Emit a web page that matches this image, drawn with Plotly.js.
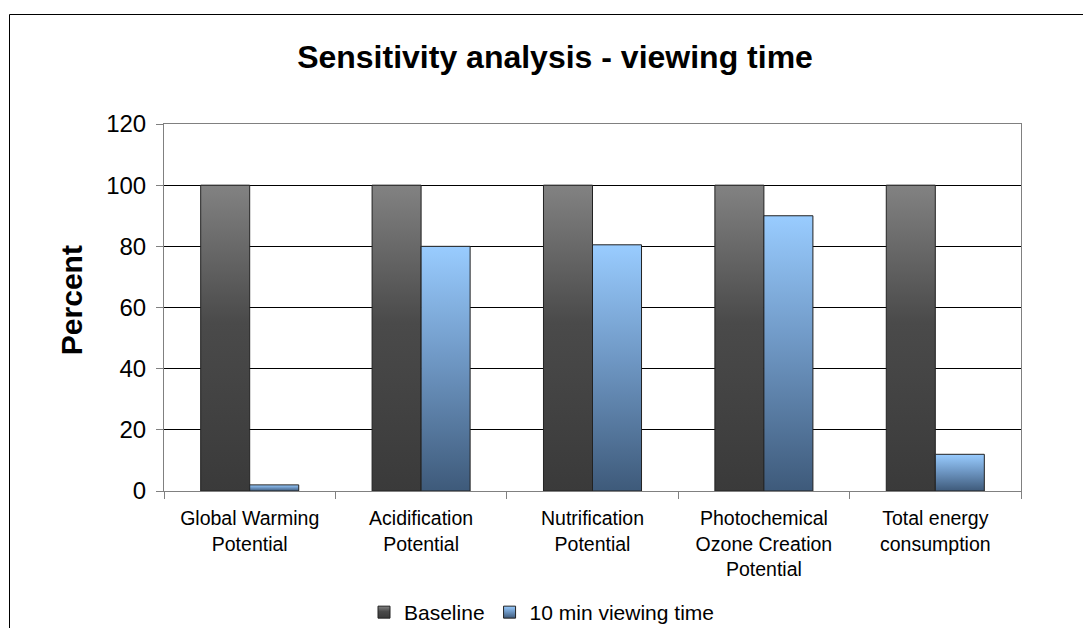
<!DOCTYPE html>
<html><head><meta charset="utf-8">
<script src="https://cdn.plot.ly/plotly-3.0.1.min.js"></script>
<style>html,body{margin:0;padding:0;background:#fff}#chart{width:1083px;height:628px}</style>
</head><body><div id="chart"></div>
<script>
const categories = ["Global Warming<br>Potential","Acidification<br>Potential","Nutrification<br>Potential","Photochemical<br>Ozone Creation<br>Potential","Total energy<br>consumption"];
const baselineValues = [100, 100, 100, 100, 100];
const viewingValues = [2, 80, 80.5, 90, 12];
const seriesNames = ["Baseline", "10 min viewing time"];
const yTickValues = [0, 20, 40, 60, 80, 100, 120];
const chartTitle = "Sensitivity analysis - viewing time";
const yTitle = "Percent";

const FONT = '"Liberation Sans", Arial, sans-serif';

const traces = [
  {type:'bar', name:seriesNames[0], x:categories, y:baselineValues,
   marker:{color:'#555555', line:{color:'#222222', width:1}}, hoverinfo:'none'},
  {type:'bar', name:seriesNames[1], x:categories, y:viewingValues,
   marker:{color:'#7fa8d6', line:{color:'#222222', width:1}}, hoverinfo:'none'}
];

const layout = {
  width:1083, height:628,
  margin:{l:164, r:62, t:124, b:137},
  paper_bgcolor:'#ffffff', plot_bgcolor:'#ffffff',
  font:{family:FONT, color:'#000000'},
  barmode:'group', bargap:0.428, bargroupgap:0,
  title:{text:chartTitle, font:{size:32, weight:700, family:FONT, color:'#000'},
         x:555/1083, xref:'container', xanchor:'center',
         y:1-57/628, yref:'container', yanchor:'middle'},
  xaxis:{type:'category', showline:true, linecolor:'#808080', linewidth:1, mirror:true,
         ticks:'outside', tickson:'boundaries', ticklen:7, tickcolor:'#808080',
         ticklabelstandoff:10,
         tickfont:{size:19.5, family:FONT, color:'#000'}, showgrid:false, zeroline:false},
  yaxis:{range:[0,120], tickvals:yTickValues, ticktext:yTickValues.map(String),
         showline:true, linecolor:'#808080', linewidth:1, mirror:true,
         ticks:'outside', ticklen:7, tickcolor:'#808080', ticklabelstandoff:5,
         tickfont:{size:24, family:FONT, color:'#000'},
         showgrid:true, gridcolor:'#000000', gridwidth:1, zeroline:false},
  showlegend:true,
  legend:{orientation:'h', xref:'container', yref:'container', x:0.5, xanchor:'center',
          y:1-592/628, yanchor:'top', font:{size:21, family:FONT, color:'#000'},
          itemwidth:30, bgcolor:'rgba(0,0,0,0)'},
  annotations:[{text:'<b>'+yTitle+'</b>', textangle:-90, xref:'paper', yref:'paper',
                x:(71-164)/857, y:0.52, xanchor:'center', yanchor:'middle', showarrow:false,
                font:{size:30, family:FONT, color:'#000'}}],
  shapes:[{type:'rect', xref:'paper', yref:'paper', layer:'below',
           x0:(9.5-164)/857, x1:1.3, y0:-0.6, y1:(491-14.5)/367,
           line:{color:'#000000', width:1}, fillcolor:'rgba(0,0,0,0)'}]
};

const gd = document.getElementById('chart');
const gradients = {
  gBase:[[0,'#828282'],[0.45,'#4a4a4a'],[1,'#3a3a3a']],
  gBlue:[[0,'#99ccff'],[0.45,'#7099c6'],[1,'#3e5a7a']]
};
function applyGradients(){
  const svg = gd.querySelector('svg.main-svg');
  if(!svg) return;
  let defs = svg.querySelector('defs');
  if(!defs){ defs = document.createElementNS('http://www.w3.org/2000/svg','defs'); svg.insertBefore(defs, svg.firstChild); }
  Object.keys(gradients).forEach(id=>{
    if(svg.querySelector('#'+id)) return;
    const lg = document.createElementNS('http://www.w3.org/2000/svg','linearGradient');
    lg.setAttribute('id', id); lg.setAttribute('x1','0'); lg.setAttribute('y1','0');
    lg.setAttribute('x2','0'); lg.setAttribute('y2','1');
    gradients[id].forEach(s=>{
      const st = document.createElementNS('http://www.w3.org/2000/svg','stop');
      st.setAttribute('offset', s[0]); st.setAttribute('stop-color', s[1]);
      lg.appendChild(st);
    });
    defs.appendChild(lg);
  });
  const ids = ['gBase','gBlue'];
  gd.querySelectorAll('.barlayer .trace').forEach((t,i)=>{
    t.querySelectorAll('.point path').forEach(p=>{ p.style.fill = 'url(#'+ids[i]+')'; });
  });
  gd.querySelectorAll('.legend .traces').forEach((t,i)=>{
    t.querySelectorAll('.legendpoints path').forEach(p=>{ p.style.fill = 'url(#'+ids[i]+')'; });
  });
}
Plotly.newPlot(gd, traces, layout, {displayModeBar:false, staticPlot:true}).then(()=>{
  applyGradients();
  gd.on && gd.on('plotly_afterplot', applyGradients);
});
</script>
</body></html>
